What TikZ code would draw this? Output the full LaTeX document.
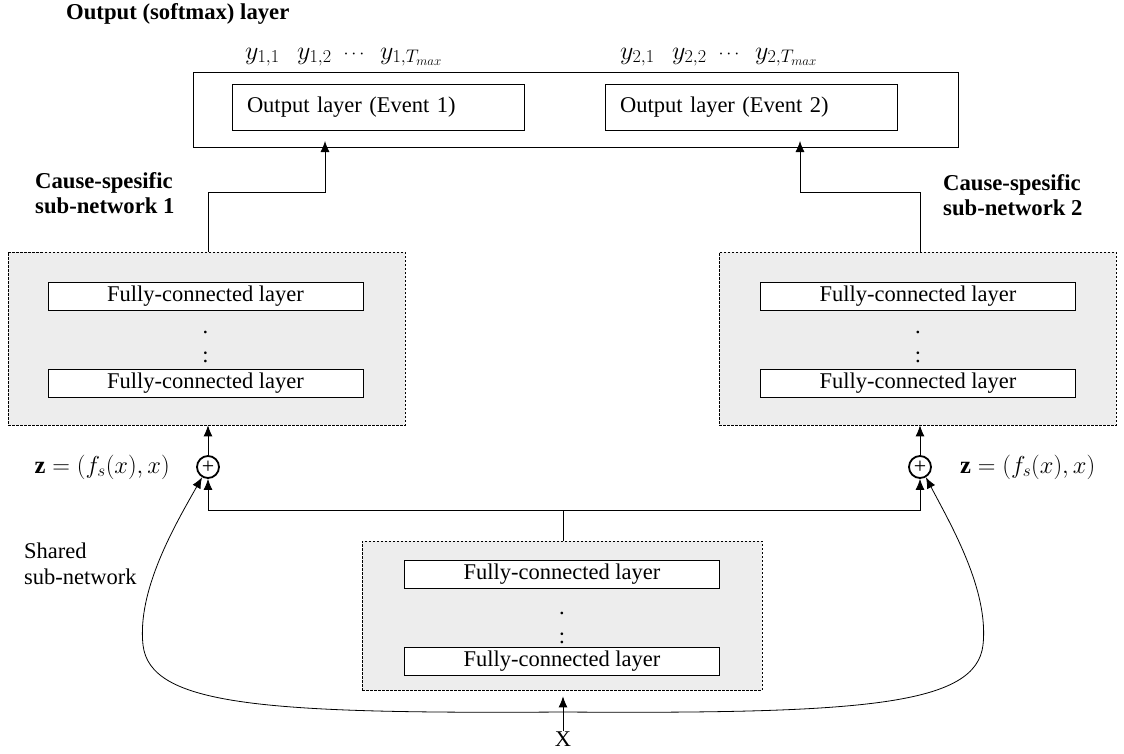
\RequirePackage{fix-cm}
\documentclass[tikz,border=0pt]{standalone}
\usepackage{fontspec}
\setmainfont{Liberation Serif}
\usetikzlibrary{arrows.meta}
\definecolor{panel}{HTML}{EDEDED}
\begin{document}
\begin{tikzpicture}[x=1pt,y=-1pt,
  font=\fontsize{22.5}{26}\selectfont,
  box/.style={draw, line width=0.9pt, fill=white, inner sep=0pt},
  panelbox/.style={draw, dash pattern=on 2.5pt off 1.5pt, line width=0.7pt, fill=panel, inner sep=0pt},
  fc/.style={box, minimum width=315pt, minimum height=28pt},
  evbox/.style={box, text width=262pt, inner xsep=15pt, align=left, minimum height=46pt},
  wire/.style={line width=0.8pt},
  arr/.style={wire, -{Latex[length=11pt,width=9pt]}},
  sumnode/.style={circle, draw, line width=1.8pt, fill=white, minimum size=22pt, inner sep=0pt, font=\fontsize{22}{22}\selectfont},
  heading/.style={font=\fontsize{22.7}{25}\selectfont\bfseries, align=left, anchor=north west, inner sep=0pt},
  plain/.style={align=left, anchor=north west, inner sep=0pt},
  dots/.style={inner sep=0pt},
  mathlab/.style={inner sep=0pt, font=\fontsize{24.5}{28}\selectfont},
  ylab/.style={inner sep=0pt, anchor=base west, font=\fontsize{26}{30}\selectfont},
  ydots/.style={inner sep=0pt, anchor=base, font=\fontsize{18}{20}\selectfont},
]
\useasboundingbox (0,0) rectangle (1124,753);

% softmax output block
\node[heading, anchor=west] (title) at (66,14) {Output (softmax) layer};
\node[box, minimum width=765pt, minimum height=75pt] (out) at (575.5,109.5) {};
\node[evbox] (ev1) at (378,107) {Output layer (Event 1)};
\node[evbox] (ev2) at (751,107) {Output layer (Event 2)};

\node[ylab] (y11) at (245,59) {$y_{1,1}$};
\node[ylab] (y12) at (297,59) {$y_{1,2}$};
\node[ydots] (y1d) at (354,58) {$\cdots$};
\node[ylab] (y1T) at (380,59) {$y_{1,T_{max}}$};
\node[ylab] (y21) at (620,59) {$y_{2,1}$};
\node[ylab] (y22) at (672,59) {$y_{2,2}$};
\node[ydots] (y2d) at (729,58) {$\cdots$};
\node[ylab] (y2T) at (755,59) {$y_{2,T_{max}}$};

% cause-specific sub-networks
\node[heading] (lab1) at (35,172) {Cause-spesific\\sub-network 1};
\node[heading] (lab2) at (943,174) {Cause-spesific\\sub-network 2};

\node[panelbox, minimum width=397pt, minimum height=173pt] (sub1) at (206.5,338.5) {};
\node[fc] (fc1a) at (205.5,296) {Fully-connected layer};
\node[dots] (d1a) at (205.5,332) {.};
\node[dots] (d1b) at (205.5,357) {:};
\node[fc] (fc1b) at (205.5,383) {Fully-connected layer};

\node[panelbox, minimum width=397pt, minimum height=173pt] (sub2) at (917.5,338.5) {};
\node[fc] (fc2a) at (918,296) {Fully-connected layer};
\node[dots] (d2a) at (918,332) {.};
\node[dots] (d2b) at (918,357) {:};
\node[fc] (fc2b) at (918,383) {Fully-connected layer};

% shared sub-network
\node[plain] (lab3) at (24,543) {Shared\\sub-network};
\node[panelbox, minimum width=400pt, minimum height=149pt] (shared) at (562,615.5) {};
\node[fc] (fc3a) at (562,574) {Fully-connected layer};
\node[dots] (d3a) at (562,613) {.};
\node[dots] (d3b) at (562,638) {:};
\node[fc] (fc3b) at (562,661) {Fully-connected layer};

% concatenation nodes
\node[sumnode] (p1) at (208,467) {+};
\node[sumnode] (p2) at (920,467) {+};
\node[mathlab, anchor=east] (z1) at (170,467) {$\mathbf{z} = (f_s(x), x)$};
\node[mathlab, anchor=west] (z2) at (960,467) {$\mathbf{z} = (f_s(x), x)$};

% input
\node[inner sep=0pt] (xin) at (563,739) {X};
\coordinate (split) at (563,712);

% connectors
\coordinate (bend1) at (325,192);
\coordinate (in1) at (325,141);
\coordinate (bend2) at (800,192);
\coordinate (in2) at (800,141);
\draw[arr] (sub1.north -| p1) |- (bend1) -- (in1);
\draw[arr] (sub2.north -| p2) |- (bend2) -- (in2);

\draw[arr] (p1.north) -- (p1.north |- sub1.south);
\draw[arr] (p2.north) -- (p2.north |- sub2.south);

\draw[wire] (shared.north -| xin) -- ++(0,-30) coordinate (hub);
\draw[arr] (hub) -| (p1.south);
\draw[arr] (hub) -| (p2.south);

\draw[arr, shorten >=6pt] (xin.north) -- (xin.north |- shared.south);

\draw[arr] (split) .. controls (260,714) and (150,705) .. (143,645)
  .. controls (137,590) and (175,525) .. (p1.240);
\draw[arr] (split) .. controls (866,714) and (976,705) .. (983,645)
  .. controls (989,590) and (951,525) .. (p2.300);
\end{tikzpicture}
\end{document}
